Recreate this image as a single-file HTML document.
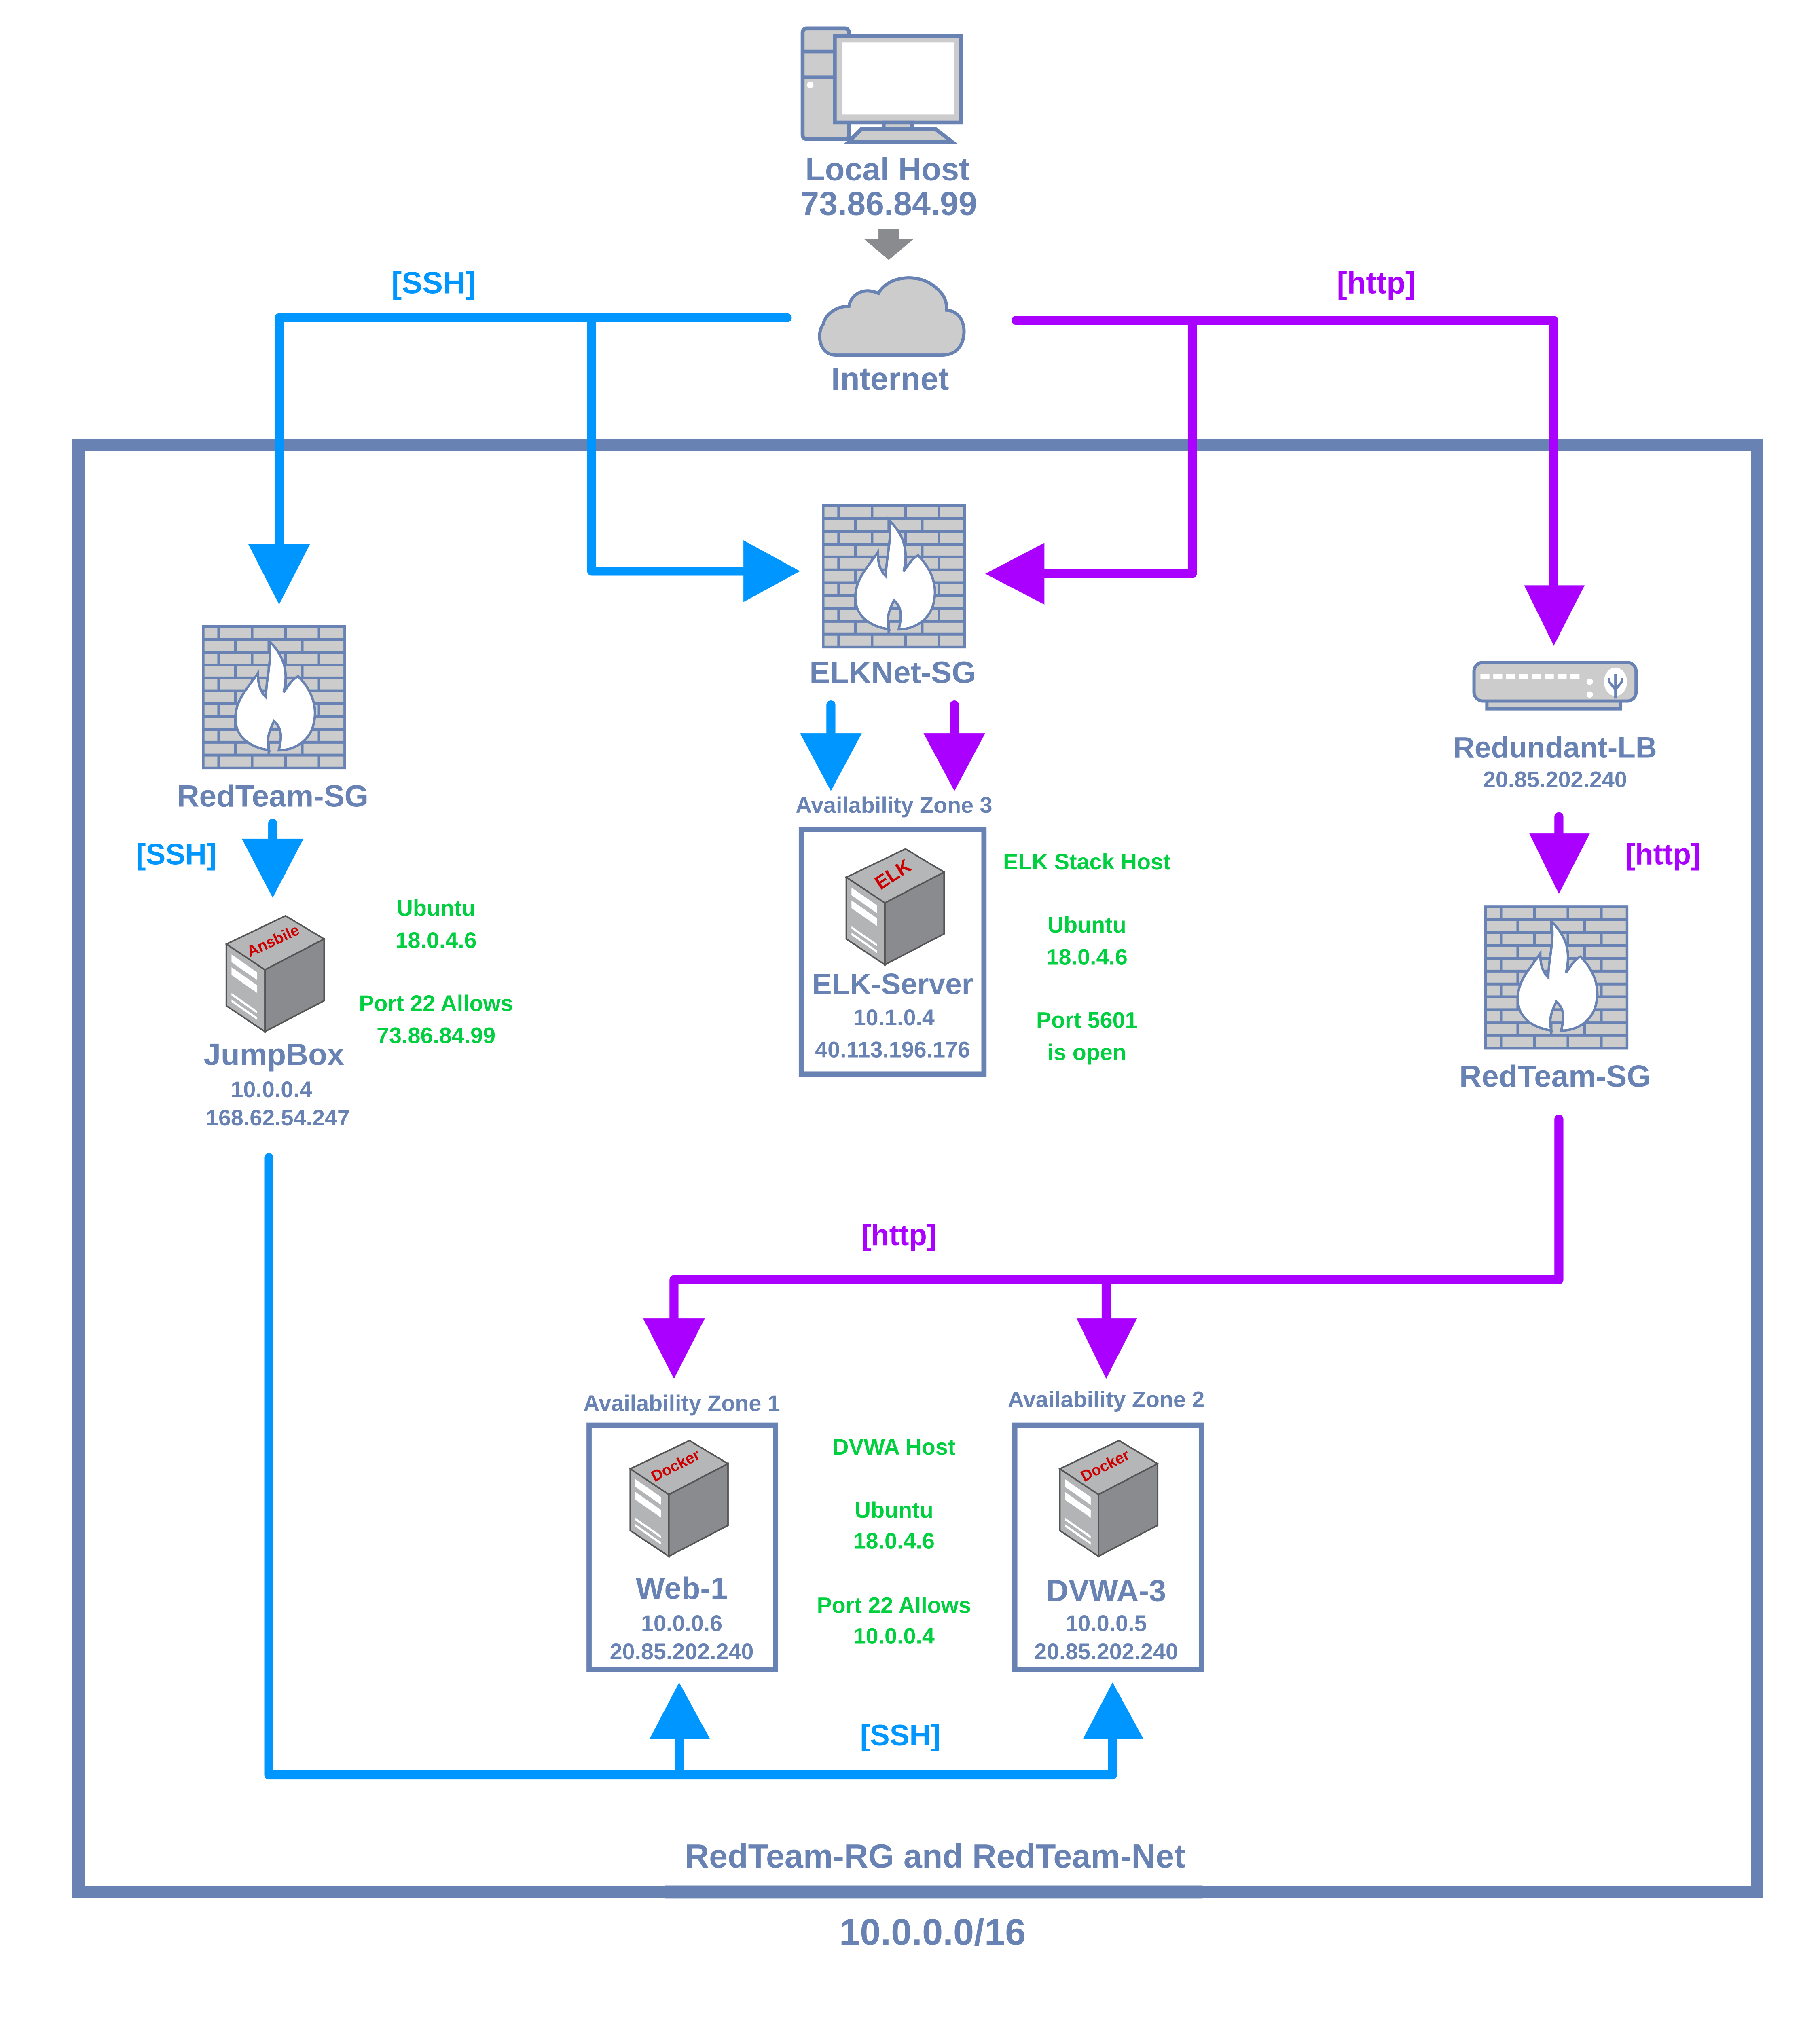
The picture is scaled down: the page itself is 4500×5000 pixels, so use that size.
<!DOCTYPE html>
<html><head><meta charset="utf-8">
<style>
html,body{margin:0;padding:0;background:#fff;width:4500px;height:5000px;overflow:hidden}
svg{display:block}
text{font-family:"Liberation Sans","DejaVu Sans",sans-serif;font-weight:bold;text-anchor:middle}
.b{fill:#6882b4}
.g{fill:#00d040}
.bl{fill:#0096ff}
.pu{fill:#aa00ff}
.s{font-size:17.5px}
</style></head><body>
<svg width="4500" height="5000" viewBox="0 0 1415 1572" xmlns="http://www.w3.org/2000/svg">
<defs>
  <g id="fw">
    <rect x="0" y="0" width="110" height="110" fill="#ccc" stroke="#6882b4" stroke-width="2"/>
    <g stroke="#6882b4" stroke-width="2.2">
      <line x1="0" y1="10" x2="110" y2="10"/><line x1="0" y1="20" x2="110" y2="20"/>
      <line x1="0" y1="30" x2="110" y2="30"/><line x1="0" y1="40" x2="110" y2="40"/>
      <line x1="0" y1="50" x2="110" y2="50"/><line x1="0" y1="60" x2="110" y2="60"/>
      <line x1="0" y1="70" x2="110" y2="70"/><line x1="0" y1="80" x2="110" y2="80"/>
      <line x1="0" y1="90" x2="110" y2="90"/><line x1="0" y1="100" x2="110" y2="100"/>
    </g>
    <g stroke="#6882b4" stroke-width="2">
      <path d="M12 0v10M38 0v10M64 0v10M90 0v10M12 20v10M38 20v10M64 20v10M90 20v10M12 40v10M38 40v10M64 40v10M90 40v10M12 60v10M38 60v10M64 60v10M90 60v10M12 80v10M38 80v10M64 80v10M90 80v10M12 100v10M38 100v10M64 100v10M90 100v10"/>
      <path d="M25 10v10M51 10v10M77 10v10M25 30v10M51 30v10M77 30v10M25 50v10M51 50v10M77 50v10M25 70v10M51 70v10M77 70v10M25 90v10M51 90v10M77 90v10"/>
    </g>
    <path transform="translate(55 55) scale(1.25) translate(-55 -55)" d="M52 88 C40 86 31 80 31 68 C31 56 40 48 45 40 C45 48 47 52 50 55 C50 44 54 32 52 20 C62 30 64 40 61 52 C64 48 66 44 70 42 C78 50 82 60 80 70 C78 82 68 88 58 88 C60 80 60 74 55 70 C52 76 50 82 52 88 Z" fill="#fff" stroke="#6882b4" stroke-width="1.5"/>
  </g>
  <g id="srv">
    <polygon points="0,22 46,0 76,18 30,42" fill="#b5b6b8" stroke="#555" stroke-width="1.2"/>
    <polygon points="0,22 30,42 30,90 0,70" fill="#b3b4b6" stroke="#555" stroke-width="1.2"/>
    <polygon points="30,42 76,18 76,66 30,90" fill="#8a8b8e" stroke="#555" stroke-width="1.2"/>
    <polygon points="4,30 24,44 24,50 4,36" fill="#fff"/>
    <polygon points="4,40 24,54 24,60 4,46" fill="#fff"/>
    <polygon points="4,60 24,74 24,76 4,62" fill="#fff"/>
    <polygon points="4,65 24,79 24,81 4,67" fill="#fff"/>
  </g>
</defs>

<rect x="61" y="346" width="1305" height="1125" fill="none" stroke="#6882b4" stroke-width="9.5"/>
<rect x="517" y="1466" width="418" height="10" fill="#6882b4"/>

<g>
  <rect x="624" y="22" width="36" height="86" rx="3" fill="#ccc" stroke="#6882b4" stroke-width="3"/>
  <line x1="624" y1="40" x2="660" y2="40" stroke="#6882b4" stroke-width="3"/>
  <line x1="624" y1="60" x2="660" y2="60" stroke="#6882b4" stroke-width="3"/>
  <circle cx="630" cy="66" r="2.5" fill="#fff"/>
  <rect x="649" y="28" width="98" height="67" fill="#ccc" stroke="#6882b4" stroke-width="3"/>
  <rect x="655" y="33" width="87" height="56" fill="#fff"/>
  <rect x="687" y="95" width="22" height="9" fill="#ccc" stroke="#6882b4" stroke-width="3"/>
  <polygon points="660,110 670,100 727,100 740,110" fill="#ccc" stroke="#6882b4" stroke-width="3"/>
</g>
<text class="b" x="690" y="140" font-size="25">Local Host</text>
<text class="b" x="691" y="167" font-size="26">73.86.84.99</text>
<polygon points="683,178 699,178 699,186 710,186 691,202 672,186 683,186" fill="#8a8b8e"/>

<path d="M650 276 C636 276 635 258 640 252 C642 244 650 238 660 238 C662 228 672 223 683 228 C690 214 718 210 732 228 C736 233 736 238 736 241 C748 242 752 255 748 266 C745 273 740 276 732 276 Z" fill="#ccc" stroke="#6882b4" stroke-width="2.5"/>
<text class="b" x="692" y="303" font-size="25">Internet</text>

<g stroke="#0096ff" stroke-width="7" fill="none" stroke-linecap="round" stroke-linejoin="round">
  <polyline points="612,247 217,247 217,425"/>
  <polyline points="460,247 460,444 580,444"/>
  <line x1="212" y1="640" x2="212" y2="655"/>
  <polyline points="209,900 209,1380 865,1380 865,1350"/>
  <line x1="528" y1="1380" x2="528" y2="1350"/>
  <line x1="646" y1="548" x2="646" y2="572"/>
</g>
<g fill="#0096ff">
  <polygon points="193,423 241,423 217,470"/>
  <polygon points="578,420 578,468 622,444"/>
  <polygon points="188,652 236,652 212,698"/>
  <polygon points="505,1352 552,1352 528,1308"/>
  <polygon points="842,1352 889,1352 865,1308"/>
  <polygon points="622,570 670,570 646,615"/>
</g>

<g stroke="#aa00ff" stroke-width="7" fill="none" stroke-linecap="round" stroke-linejoin="round">
  <polyline points="790,249 1208,249 1208,458"/>
  <polyline points="927,249 927,446 810,446"/>
  <line x1="742" y1="548" x2="742" y2="572"/>
  <line x1="1212" y1="635" x2="1212" y2="650"/>
  <polyline points="1212,870 1212,995 524,995 524,1028"/>
  <line x1="860" y1="995" x2="860" y2="1028"/>
</g>
<g fill="#aa00ff">
  <polygon points="1185,455 1232,455 1208,502"/>
  <polygon points="812,422 812,470 766,446"/>
  <polygon points="718,570 766,570 742,615"/>
  <polygon points="1189,648 1236,648 1212,695"/>
  <polygon points="500,1025 548,1025 524,1072"/>
  <polygon points="837,1025 884,1025 860,1072"/>
</g>

<text class="bl" x="337" y="228" font-size="24">[SSH]</text>
<text class="pu" x="1070" y="228" font-size="24">[http]</text>

<use href="#fw" x="158" y="487"/>
<use href="#fw" x="640" y="393"/>
<use href="#fw" x="1155" y="705"/>
<text class="b" x="212" y="627" font-size="24">RedTeam-SG</text>
<text class="b" x="694" y="531" font-size="24">ELKNet-SG</text>
<text class="b" x="1209" y="845" font-size="24">RedTeam-SG</text>
<text class="bl" x="137" y="672" font-size="23">[SSH]</text>
<text class="pu" x="1293" y="672" font-size="23">[http]</text>
<text class="pu" x="699" y="968" font-size="23">[http]</text>
<text class="bl" x="700" y="1357" font-size="23">[SSH]</text>

<use href="#srv" x="176" y="712"/>
<text x="214" y="735" font-size="12" fill="#cc0000" transform="rotate(-25 214 735)">Ansbile</text>
<text class="b" x="213" y="828" font-size="24">JumpBox</text>
<text class="b s" x="211" y="853">10.0.0.4</text>
<text class="b s" x="216" y="875">168.62.54.247</text>
<text class="g s" x="339" y="712">Ubuntu</text>
<text class="g s" x="339" y="737">18.0.4.6</text>
<text class="g s" x="339" y="786">Port 22 Allows</text>
<text class="g s" x="339" y="811">73.86.84.99</text>

<text class="b s" x="695" y="632">Availability Zone 3</text>
<rect x="623" y="645" width="142" height="190" fill="none" stroke="#6882b4" stroke-width="4"/>
<use href="#srv" x="658" y="660"/>
<text x="697" y="684" font-size="15" fill="#cc0000" transform="rotate(-33 697 684)">ELK</text>
<text class="b" x="694" y="773" font-size="23">ELK-Server</text>
<text class="b s" x="695" y="797">10.1.0.4</text>
<text class="b s" x="694" y="822">40.113.196.176</text>
<text class="g s" x="845" y="676">ELK Stack Host</text>
<text class="g s" x="845" y="725">Ubuntu</text>
<text class="g s" x="845" y="750">18.0.4.6</text>
<text class="g s" x="845" y="799">Port 5601</text>
<text class="g s" x="845" y="824">is open</text>

<g>
  <rect x="1156" y="540" width="104" height="11" fill="#ccc" stroke="#6882b4" stroke-width="2.5"/>
  <rect x="1146" y="515" width="126" height="30" rx="7" fill="#ccc" stroke="#6882b4" stroke-width="2.5"/>
  <g fill="#fff">
    <rect x="1151" y="524" width="7" height="4"/><rect x="1161" y="524" width="7" height="4"/><rect x="1171" y="524" width="7" height="4"/><rect x="1181" y="524" width="7" height="4"/><rect x="1191" y="524" width="7" height="4"/><rect x="1201" y="524" width="7" height="4"/><rect x="1211" y="524" width="7" height="4"/><rect x="1221" y="524" width="7" height="4"/>
    <circle cx="1236" cy="530" r="2.5"/><circle cx="1236" cy="540" r="2.5"/>
    <ellipse cx="1256" cy="530" rx="9" ry="11"/>
  </g>
  <path d="M1256 536v7M1256 536l-5-6v-3M1256 536l5-6v-3M1256 524v12" stroke="#6882b4" stroke-width="2" fill="none"/>
</g>
<text class="b" x="1209" y="589" font-size="23">Redundant-LB</text>
<text class="b s" x="1209" y="612">20.85.202.240</text>

<text class="b s" x="530" y="1097">Availability Zone 1</text>
<rect x="458" y="1108" width="145" height="190" fill="none" stroke="#6882b4" stroke-width="4"/>
<use href="#srv" x="490" y="1120"/>
<text x="527" y="1143" font-size="12" fill="#cc0000" transform="rotate(-27 527 1143)">Docker</text>
<text class="b" x="530" y="1243" font-size="24">Web-1</text>
<text class="b s" x="530" y="1268">10.0.0.6</text>
<text class="b s" x="530" y="1290">20.85.202.240</text>

<text class="b s" x="860" y="1094">Availability Zone 2</text>
<rect x="789" y="1108" width="145" height="190" fill="none" stroke="#6882b4" stroke-width="4"/>
<use href="#srv" x="824" y="1120"/>
<text x="861" y="1143" font-size="12" fill="#cc0000" transform="rotate(-27 861 1143)">Docker</text>
<text class="b" x="860" y="1245" font-size="24">DVWA-3</text>
<text class="b s" x="860" y="1268">10.0.0.5</text>
<text class="b s" x="860" y="1290">20.85.202.240</text>

<text class="g s" x="695" y="1131">DVWA Host</text>
<text class="g s" x="695" y="1180">Ubuntu</text>
<text class="g s" x="695" y="1204">18.0.4.6</text>
<text class="g s" x="695" y="1254">Port 22 Allows</text>
<text class="g s" x="695" y="1278">10.0.0.4</text>

<text class="b" x="727" y="1452" font-size="26">RedTeam-RG and RedTeam-Net</text>
<text class="b" x="725" y="1512" font-size="29">10.0.0.0/16</text>
</svg>
</body></html>
